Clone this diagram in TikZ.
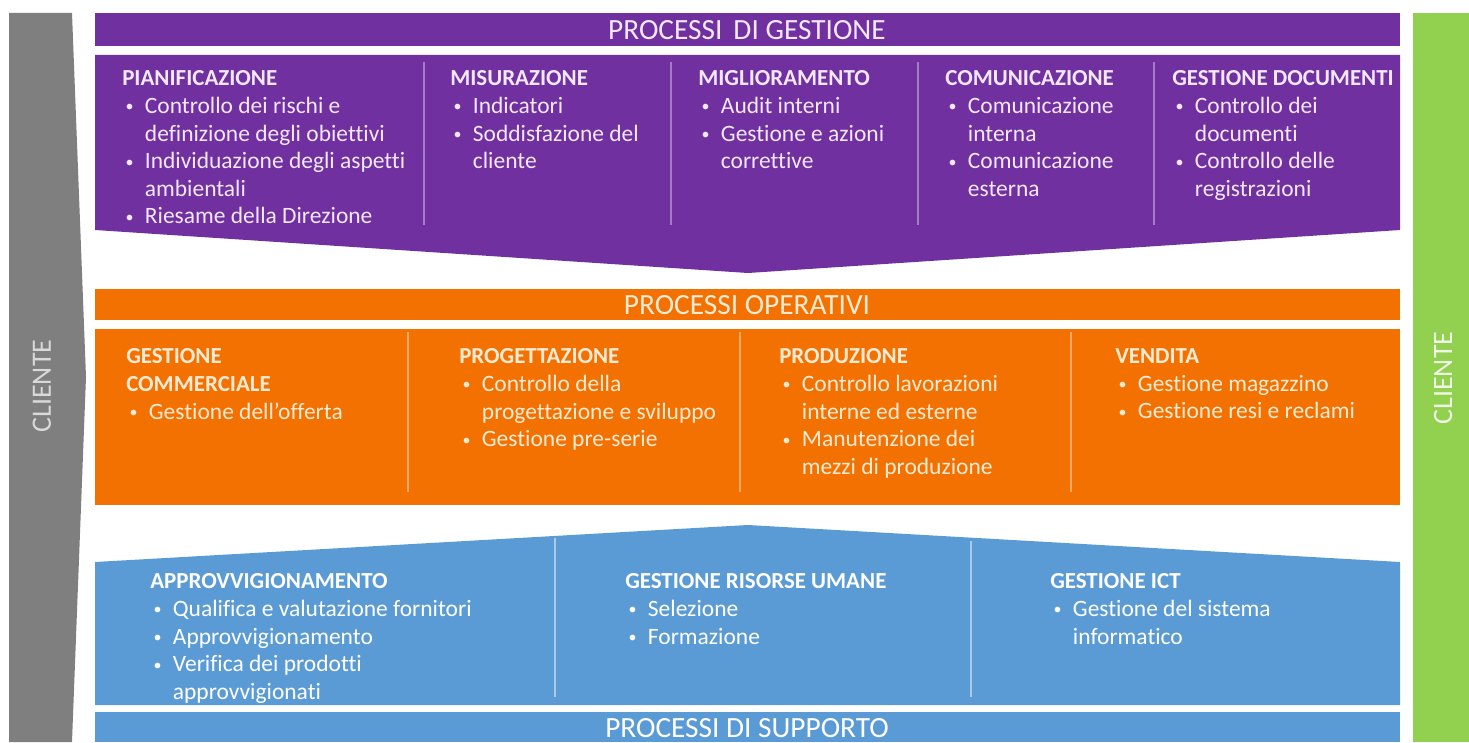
\documentclass[tikz,border=0pt]{standalone}
\usepackage{fontspec}
\setmainfont{Carlito}[Ligatures=NoCommon]
\usetikzlibrary{positioning}

\definecolor{viola}{HTML}{7030A0}
\definecolor{violachiaro}{HTML}{A57BC8}
\definecolor{testoviola}{HTML}{F3E8FB}
\definecolor{arancio}{HTML}{F27100}
\definecolor{aranciochiaro}{HTML}{F9AA66}
\definecolor{testoarancio}{HTML}{FFEBD4}
\definecolor{azzurro}{HTML}{5B9BD5}
\definecolor{azzurrochiaro}{HTML}{A8CBEB}
\definecolor{grigio}{HTML}{7F7F7F}
\definecolor{verde}{HTML}{92D050}

\newcommand{\colhead}[1]{{\fontsize{17.2}{20.7}\selectfont\bfseries #1}}
\newcommand{\bitem}[1]{\makebox[17pt][l]{\hspace{2.5pt}\raisebox{1.2pt}{\fontsize{12}{12}\selectfont •}}#1}
\newcommand{\bcont}[1]{\hspace*{17pt}#1}

\begin{document}
\begin{tikzpicture}[
  x=0.75pt, y=-0.75pt,
  title/.style={inner sep=0, font=\fontsize{22}{24}\selectfont},
  col/.style={anchor=north west, align=left, inner sep=0, font=\fontsize{17.6}{20.7}\selectfont},
  divider/.style={line width=1pt},
  cliente/.style={inner sep=0, rotate=90, font=\fontsize{21}{24}\selectfont}
]
  \useasboundingbox (0,0) rectangle (1469,742);

  % Customer side bars
  \fill[grigio] (9,13) -- (72,13) -- (86,377) -- (72,742) -- (9,742) -- cycle;
  \fill[verde] (1413,13) rectangle (1469,742);
  \node[cliente, text=black!15] (clienteL) at (42,386) {CLIENTE};
  \node[cliente, text=white!85!verde] (clienteR) at (1443,378) {CLIENTE};

  % Management processes
  \fill[viola] (95,13) rectangle (1400,46);
  \fill[viola] (95,55) -- (1400,55) -- (1400,230) -- (748,273) -- (95,230) -- cycle;
  \node[title, text=testoviola] (gestTitle) at (747,30) {PROCESSI\hspace{0.15em} DI GESTIONE};
  \foreach \x in {424,671,918,1154}
    \draw[divider, violachiaro] (\x,62) -- (\x,225);

  \node[col, text=testoviola] (pianificazione) at (122,70.5) {\colhead{PIANIFICAZIONE}\\
    \bitem{Controllo dei rischi e}\\ \bcont{definizione degli obiettivi}\\
    \bitem{Individuazione degli aspetti}\\ \bcont{ambientali}\\
    \bitem{Riesame della Direzione}};
  \node[col, text=testoviola] (misurazione) at (450,70.5) {\colhead{MISURAZIONE}\\
    \bitem{Indicatori}\\
    \bitem{Soddisfazione del}\\ \bcont{cliente}};
  \node[col, text=testoviola] (miglioramento) at (698,70.5) {\colhead{MIGLIORAMENTO}\\
    \bitem{Audit interni}\\
    \bitem{Gestione e azioni}\\ \bcont{correttive}};
  \node[col, text=testoviola] (comunicazione) at (945,70.5) {\colhead{COMUNICAZIONE}\\
    \bitem{Comunicazione}\\ \bcont{interna}\\
    \bitem{Comunicazione}\\ \bcont{esterna}};
  \node[col, text=testoviola] (documenti) at (1172,70.5) {\colhead{GESTIONE DOCUMENTI}\\
    \bitem{Controllo dei}\\ \bcont{documenti}\\
    \bitem{Controllo delle}\\ \bcont{registrazioni}};

  % Operational processes
  \fill[arancio] (95,289) rectangle (1400,320);
  \fill[arancio] (95,329) rectangle (1400,505);
  \node[title, text=testoarancio] (opTitle) at (747,305) {PROCESSI OPERATIVI};
  \foreach \x in {408,740,1071}
    \draw[divider, aranciochiaro] (\x,332) -- (\x,492);

  \node[col, text=testoarancio] (commerciale) at (126,348.5) {\colhead{GESTIONE}\\ \colhead{COMMERCIALE}\\
    \bitem{Gestione dell’offerta}};
  \node[col, text=testoarancio] (progettazione) at (459,348.5) {\colhead{PROGETTAZIONE}\\
    \bitem{Controllo della}\\ \bcont{progettazione e sviluppo}\\
    \bitem{Gestione pre-serie}};
  \node[col, text=testoarancio] (produzione) at (779,348.5) {\colhead{PRODUZIONE}\\
    \bitem{Controllo lavorazioni}\\ \bcont{interne ed esterne}\\
    \bitem{Manutenzione dei}\\ \bcont{mezzi di produzione}};
  \node[col, text=testoarancio] (vendita) at (1115,348.5) {\colhead{VENDITA}\\
    \bitem{Gestione magazzino}\\
    \bitem{Gestione resi e reclami}};

  % Support processes
  \fill[azzurro] (95,562) -- (748,525) -- (1400,562) -- (1400,705) -- (95,705) -- cycle;
  \fill[azzurro] (95,712) rectangle (1400,742);
  \node[title, text=white] (suppTitle) at (747,728) {PROCESSI DI SUPPORTO};
  \draw[divider, azzurrochiaro] (555,538) -- (555,697);
  \draw[divider, azzurrochiaro] (971,541) -- (971,697);

  \node[col, text=white] (approvvigionamento) at (150,573.5) {\colhead{APPROVVIGIONAMENTO}\\
    \bitem{Qualifica e valutazione fornitori}\\
    \bitem{Approvvigionamento}\\
    \bitem{Verifica dei prodotti}\\ \bcont{approvvigionati}};
  \node[col, text=white] (risorse) at (625,573.5) {\colhead{GESTIONE RISORSE UMANE}\\
    \bitem{Selezione}\\
    \bitem{Formazione}};
  \node[col, text=white] (ict) at (1050,573.5) {\colhead{GESTIONE ICT}\\
    \bitem{Gestione del sistema}\\ \bcont{informatico}};

\end{tikzpicture}
\end{document}
